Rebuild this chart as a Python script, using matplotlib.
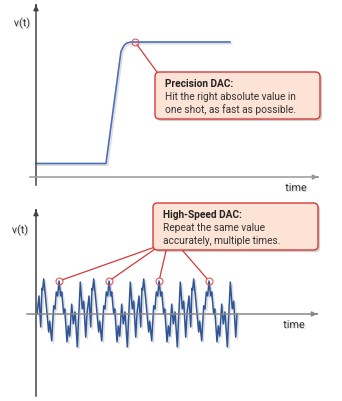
import numpy as np
import matplotlib
matplotlib.use("Agg")
import matplotlib.pyplot as plt
import matplotlib.patheffects as pe
from matplotlib.patches import FancyBboxPatch
from matplotlib.transforms import Affine2D

plt.rcParams["font.family"] = ["Roboto", "DejaVu Sans"]

# precision DAC: step response (time units, normalised output)
step_t = [0.0, 3.5, 4.25, 4.4, 4.55, 4.75, 5.0, 9.7]
step_v = [0.10, 0.10, 0.93, 0.975, 0.993, 1.0, 1.0, 1.0]
settle_t = 4.95
settle_v = 1.0

# high-speed DAC: one period of the repeated waveform (time units, output)
period_t = [0.0, 0.10, 0.185, 0.25, 0.28, 0.335, 0.435, 0.585, 0.635, 0.735,
            0.835, 0.90, 0.965, 1.035, 1.10, 1.185, 1.235, 1.335, 1.385,
            1.50, 1.565, 1.635, 1.735, 1.815, 1.90, 2.015, 2.165, 2.265,
            2.335, 2.435]
period_v = [0.0, 0.53, -0.38, 0.76, 0.70, 1.03, 0.44, -0.53, -0.21, -0.79,
            0.24, 0.15, 0.65, 0.53, 0.97, 0.53, 0.65, 0.0, 0.15, -0.82,
            -0.35, -0.65, 0.29, -0.29, 0.06, -0.97, 0.94, 0.15, 0.38, -0.68]
period_len = 2.5
n_periods = 4
marked_t = 1.10
marked_v = 0.97

W, H = 342, 402
fig = plt.figure(figsize=(W / 100, H / 100), dpi=100)
# top-left pixel coordinates -> display
px = Affine2D().scale(0.01, -0.01).translate(0, H / 100) + fig.dpi_scale_trans

line_blue = "#4a6fb8"
wave_blue = "#2f5597"
red = "#d23a3a"
shadow = [pe.SimpleLineShadow(offset=(1.2, -1.2), alpha=0.13), pe.Normal()]
txt_shadow = [pe.withSimplePatchShadow(offset=(0.8, -0.8), alpha=0.15)]


def panel(top, bottom, x0, y0, xunit, yunit):
    ax = fig.add_axes([0, 1 - bottom / H, 1, (bottom - top) / H])
    ax.set_xlim(-x0 / xunit, (W - x0) / xunit)
    ax.set_ylim((y0 - bottom) / yunit, (y0 - top) / yunit)
    ax.axis("off")
    return ax


def axis_arrow(x1, y1, x2, y2, color):
    fig.add_artist(plt.Line2D([x1, x2], [y1, y2], transform=px, color=color, lw=1.1))
    ax_top.annotate("", xy=(x2, y2), xytext=(x2 - (x2 - x1) * 0.001, y2 - (y2 - y1) * 0.001),
                    xycoords=px, textcoords=px,
                    arrowprops=dict(arrowstyle="-|>", color=color, lw=1.1,
                                    mutation_scale=7, shrinkA=0, shrinkB=0))


def callout(x, y, w, h, title, lines):
    box = FancyBboxPatch((x / 100, (H - y - h) / 100), w / 100, h / 100,
                         boxstyle="round,pad=0,rounding_size=0.045",
                         transform=fig.dpi_scale_trans, facecolor="#fde3d6",
                         edgecolor=red, lw=1.0, zorder=5,
                         path_effects=[pe.withSimplePatchShadow(offset=(1.5, -1.5), alpha=0.25)])
    fig.add_artist(box)
    fig.text(x + 10, y + 11, title, transform=px, fontsize=7.3, fontweight="bold",
             color="#222222", va="center", zorder=6)
    for i, s in enumerate(lines):
        fig.text(x + 10, y + 24 + 13 * i, s, transform=px, fontsize=7.3,
                 color="#333333", va="center", zorder=6)


# ---- top panel ----
ax_top = panel(0, 200, 36, 178, 20, 135)
axis_arrow(36, 186, 36, 6, "#444444")
axis_arrow(30, 178, 318, 178, "#999999")
fig.text(22, 24, "v(t)", transform=px, fontsize=7.8, color="#333333",
         ha="center", va="center", path_effects=txt_shadow)
fig.text(296, 189, "time", transform=px, fontsize=7.8, color="#333333",
         ha="center", va="center", path_effects=txt_shadow)

ax_top.plot(step_t, step_v, color=line_blue, lw=1.2, path_effects=shadow)
ax_top.plot(settle_t, settle_v, "o", ms=5, mfc="none", mec="#e05a5a", mew=0.8)
ax_top.annotate("", xy=(settle_t, settle_v), xytext=(157, 73), textcoords=px,
                arrowprops=dict(arrowstyle="-", color=red, lw=0.9, shrinkA=0, shrinkB=2.5))
callout(155, 73, 165, 47, "Precision DAC:",
        ["Hit the right absolute value in", "one shot, as fast as possible."])

# ---- bottom panel ----
ax_bot = panel(200, 402, 37, 315, 20, 34)
axis_arrow(36, 397, 36, 211, "#444444")
axis_arrow(27, 315, 317, 315, "#888888")
fig.text(20, 231, "v(t)", transform=px, fontsize=7.8, color="#333333",
         ha="center", va="center", path_effects=txt_shadow)
fig.text(294, 326, "time", transform=px, fontsize=7.8, color="#333333",
         ha="center", va="center", path_effects=txt_shadow)

wave_t = np.concatenate([np.array(period_t) + k * period_len for k in range(n_periods)]
                        + [[n_periods * period_len]])
wave_v = np.concatenate([period_v] * n_periods + [[0.0]])
ax_bot.plot(wave_t, wave_v, color=wave_blue, lw=1.1, path_effects=shadow)

starts = [(155, 248), (155, 250), (166, 252), (183, 252)]
for k, (sx, sy) in enumerate(starts):
    mt = marked_t + k * period_len
    ax_bot.plot(mt, marked_v, "o", ms=5, mfc="none", mec="#e05a5a", mew=0.8)
    ax_bot.annotate("", xy=(mt, marked_v), xytext=(sx, sy), textcoords=px,
                    arrowprops=dict(arrowstyle="-", color=red, lw=0.9, shrinkA=0, shrinkB=2.5))
callout(153, 204, 165, 47, "High-Speed DAC:",
        ["Repeat the same value", "accurately, multiple times."])

fig.savefig("out.png", dpi=100)
